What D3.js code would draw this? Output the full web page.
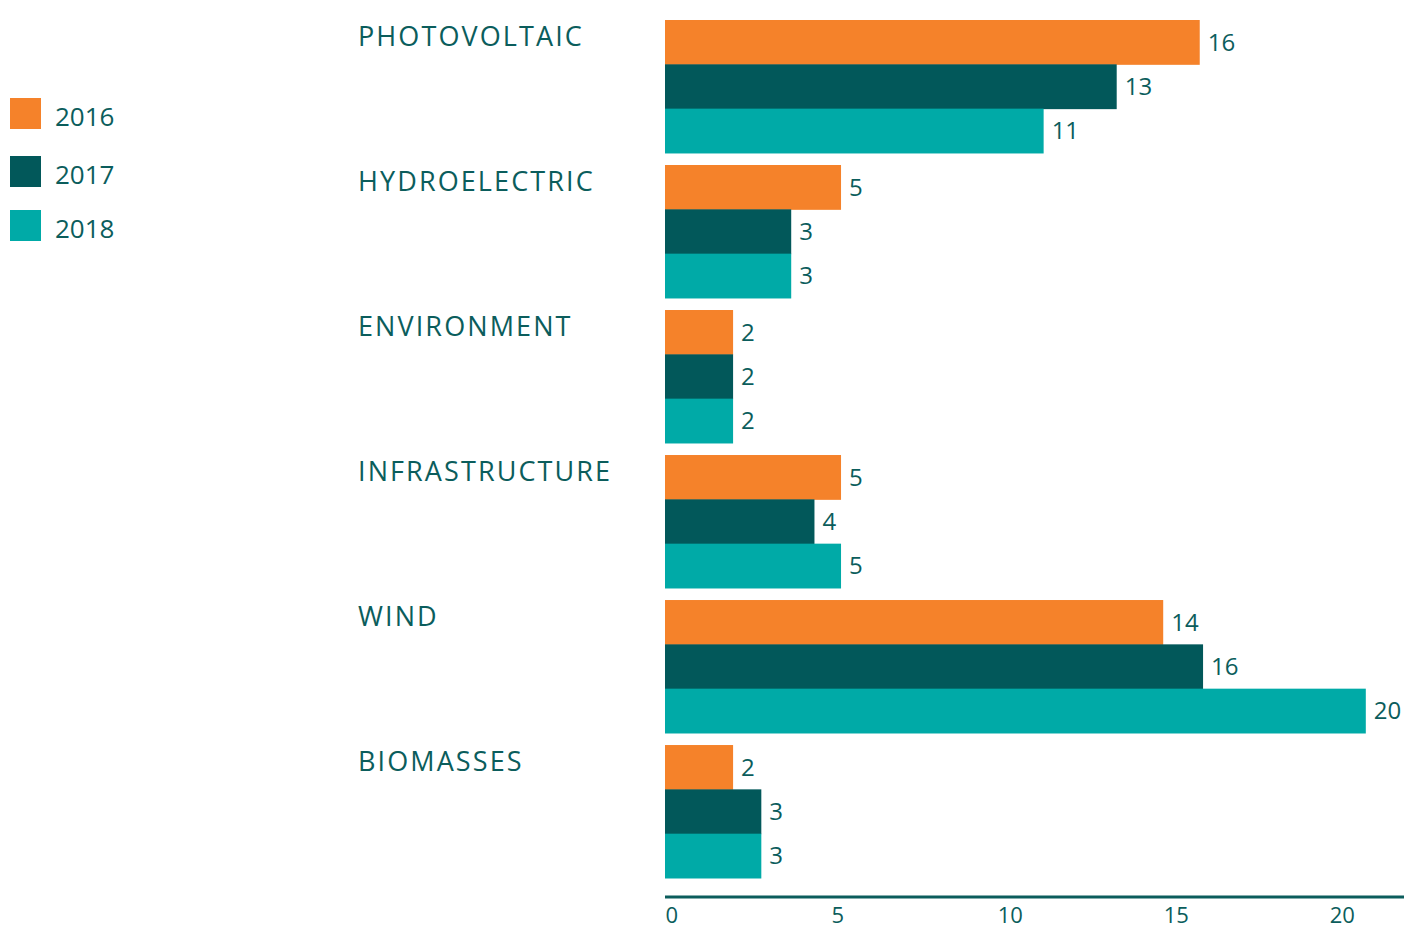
<!DOCTYPE html>
<html><head><meta charset="utf-8">
<script src="https://cdn.jsdelivr.net/npm/d3@7/dist/d3.min.js"></script>
<style>
html,body{margin:0;padding:0;background:#fff;}
svg{display:block;font-family:"Open Sans","Noto Sans",sans-serif;}
</style></head>
<body><svg id="chart" width="1404" height="929"></svg>
<script>
const categories = ["PHOTOVOLTAIC","HYDROELECTRIC","ENVIRONMENT","INFRASTRUCTURE","WIND","BIOMASSES"];
const years = ["2016","2017","2018"];
// bar lengths as drawn
const values2016 = [16.1, 5.3, 2.05, 5.3, 15.0, 2.05];
const values2017 = [13.6, 3.8, 2.05, 4.5, 16.2, 2.9];
const values2018 = [11.4, 3.8, 2.05, 5.3, 21.1, 2.9];
// printed value labels
const labels2016 = ["16","5","2","5","14","2"];
const labels2017 = ["13","3","2","4","16","3"];
const labels2018 = ["11","3","2","5","20","3"];
const tickValues = [0,5,10,15,20];
const colors = ["#f5822a","#02585a","#00aaa7"];
const textColor = "#0b5d5c";

const seriesVals = [values2016, values2017, values2018];
const seriesLabels = [labels2016, labels2017, labels2018];

const svg = d3.select("#chart");
const x = d3.scaleLinear().domain([0, 22.25]).range([665, 1404]);
const y0 = d3.scaleBand().domain(categories).range([20, 878]).paddingInner(0.083).paddingOuter(0);
const y1 = d3.scaleBand().domain(years).range([0, y0.bandwidth()]);
const color = d3.scaleOrdinal().domain(years).range(colors);

const rows = [];
categories.forEach((c,i)=>years.forEach((yr,j)=>rows.push({cat:c, year:yr, v:seriesVals[j][i], label:seriesLabels[j][i]})));

svg.append("g").selectAll("rect").data(rows).join("rect")
  .attr("x", x(0))
  .attr("y", d=>y0(d.cat)+y1(d.year))
  .attr("width", d=>x(d.v)-x(0))
  .attr("height", y1.bandwidth()+0.5)
  .attr("fill", d=>color(d.year));

svg.append("g").selectAll("text").data(rows).join("text")
  .attr("x", d=>x(d.v)+8)
  .attr("y", d=>y0(d.cat)+y1(d.year)+y1.bandwidth()/2)
  .attr("dy","0.35em")
  .attr("font-size", 24)
  .attr("fill", textColor)
  .text(d=>d.label);

// category labels
svg.append("g").selectAll("text").data(categories).join("text")
  .attr("x", 358)
  .attr("y", d=>y0(d)+26)
  .attr("font-size", 27)
  .attr("letter-spacing", 2.1)
  .attr("fill", textColor)
  .text(d=>d);

// axis
const axis = d3.axisBottom(x).tickValues(tickValues).tickSize(0).tickPadding(0);
const ag = svg.append("g").attr("transform","translate(0,897)").call(axis);
ag.select(".domain").attr("stroke", textColor).attr("stroke-width", 3).attr("d","M665,0H1404");
ag.selectAll(".tick text").attr("font-size", 22).attr("fill", textColor)
  .attr("font-family","\"Open Sans\",sans-serif")
  .attr("text-anchor","start").attr("y", 26).attr("dy","0");

// legend
const leg = svg.append("g").selectAll("g").data(years).join("g")
  .attr("transform",(d,i)=>`translate(10,${[98,156,210][i]})`);
leg.append("rect").attr("width",31).attr("height",31).attr("fill",d=>color(d));
leg.append("text").attr("x",45).attr("y",19).attr("dy","0.35em")
  .attr("font-size",26).attr("fill",textColor).text(d=>d);
</script></body></html>
